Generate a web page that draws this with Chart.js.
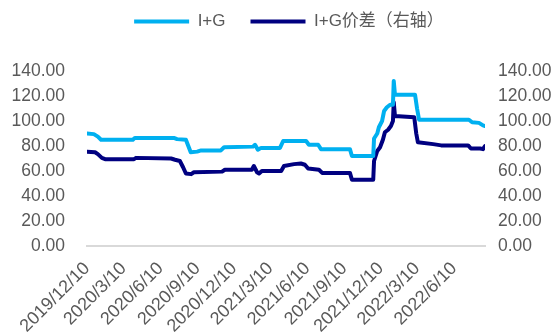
<!DOCTYPE html>
<html>
<head>
<meta charset="utf-8">
<script src="https://cdn.jsdelivr.net/npm/chart.js@4/dist/chart.umd.min.js"></script>
<style>
  html, body { margin: 0; padding: 0; background: #ffffff; }
  #wrap { width: 558px; height: 334px; }
</style>
</head>
<body>
<div id="wrap"><canvas id="chart" width="558" height="334"></canvas></div>
<script>
// I+G price (left axis) and I+G spread (right axis), dated change points
const igDates = ['2019/12/10','2019/12/27','2020/1/6','2020/1/14','2020/4/2','2020/4/7','2020/7/13','2020/7/21','2020/8/12','2020/8/18','2020/8/24','2020/9/9','2020/9/19','2020/11/7','2020/11/15','2021/1/26','2021/1/31','2021/2/7','2021/2/15','2021/4/3','2021/4/11','2021/6/7','2021/6/14','2021/7/7','2021/7/14','2021/9/24','2021/9/29','2021/11/21','2021/11/23','2021/12/1','2021/12/5','2021/12/13','2021/12/18','2021/12/25','2022/1/2','2022/1/9','2022/1/11','2022/1/14','2022/3/5','2022/3/10','2022/3/15','2022/7/17','2022/7/25','2022/8/11','2022/8/21','2022/8/26'];
const igValues = [90,89.5,87.5,85,85,86.5,86.5,85.5,85,80,75,75.5,76.5,76.5,79,79.5,81,77,78.5,78.5,84,84,81,81,77.5,77.5,72,72,86,90,95,100,108,111,113,113,132,121,121,110,101,101,99,98.5,96.5,96];

const spreadDates = ['2019/12/10','2019/12/30','2020/1/6','2020/1/16','2020/1/24','2020/4/5','2020/4/10','2020/7/6','2020/7/16','2020/7/28','2020/8/5','2020/8/12','2020/8/25','2020/9/1','2020/11/10','2020/11/17','2021/1/23','2021/1/28','2021/2/5','2021/2/10','2021/2/17','2021/4/6','2021/4/13','2021/5/8','2021/5/25','2021/6/4','2021/6/12','2021/7/9','2021/7/17','2021/9/24','2021/9/29','2021/11/21','2021/11/23','2021/12/1','2021/12/8','2021/12/15','2021/12/20','2021/12/28','2022/1/4','2022/1/9','2022/1/11','2022/1/14','2022/3/3','2022/3/8','2022/3/12','2022/4/19','2022/5/9','2022/7/15','2022/7/22','2022/8/14','2022/8/21','2022/8/26'];
const spreadValues = [75.5,75,73.5,70.5,69.5,69.5,70.5,70,69,68,63,58,57.5,59,59.5,61,61,64,59,58,60,60,64,65.5,66,65,62,61,58.5,58.5,53,53,68,76,79,85,91,93,96,100,115,104,103,90,83,81.5,80.5,80.5,78,78,77.5,80];

const xTickLabels = ['2019/12/10','2020/3/10','2020/6/10','2020/9/10','2020/12/10','2021/3/10','2021/6/10','2021/9/10','2021/12/10','2022/3/10','2022/6/10'];

const seriesNames = ['I+G', 'I+G价差（右轴）'];

// Dates become day counts from the first axis label
function dayOf(s) {
  const [y, m, d] = s.split('/').map(Number);
  const [y0, m0, d0] = xTickLabels[0].split('/').map(Number);
  return Math.round((Date.UTC(y, m - 1, d) - Date.UTC(y0, m0 - 1, d0)) / 864e5);
}
const toPoints = (dates, vals) => dates.map((d, i) => ({ x: dayOf(d), y: vals[i] }));

const lastDay = Math.max(dayOf(igDates[igDates.length - 1]), dayOf(spreadDates[spreadDates.length - 1]));

const textColor = '#595959';
const fontFamily = "'Liberation Sans', Arial, 'Noto Sans CJK SC', sans-serif";
Chart.defaults.font.family = fontFamily;
Chart.defaults.color = textColor;

// Leave extra room between the legend row and the plot, nudge the row right
const legendGap = {
  id: 'legendGap',
  beforeInit(chart) {
    const legend = chart.legend;
    if (!legend) return;
    const fit = legend.fit;
    legend.fit = function () {
      fit.call(this);
      this.height += 31;
    };
  },
  afterLayout(chart) {
    const legend = chart.legend;
    if (!legend) return;
    legend.left += 10;
    legend.right += 10;
  }
};

new Chart(document.getElementById('chart'), {
  type: 'line',
  data: {
    datasets: [
      {
        label: seriesNames[0],
        data: toPoints(igDates, igValues),
        yAxisID: 'y',
        borderColor: '#00b0f0',
        backgroundColor: '#00b0f0',
        borderWidth: 4,
        borderCapStyle: 'round',
        borderJoinStyle: 'round',
        pointRadius: 0,
        tension: 0
      },
      {
        label: seriesNames[1],
        data: toPoints(spreadDates, spreadValues),
        yAxisID: 'y1',
        borderColor: '#000080',
        backgroundColor: '#000080',
        borderWidth: 4,
        borderCapStyle: 'round',
        borderJoinStyle: 'round',
        pointRadius: 0,
        tension: 0
      }
    ]
  },
  plugins: [legendGap],
  options: {
    responsive: false,
    devicePixelRatio: 1,
    animation: false,
    layout: { padding: { top: -12, left: 0, right: 0, bottom: 0 } },
    plugins: {
      legend: {
        position: 'top',
        labels: {
          usePointStyle: true,
          pointStyle: 'line',
          pointStyleWidth: 55,
          boxHeight: 4,
          padding: 25,
          font: { size: 17 },
          color: textColor
        }
      },
      tooltip: { enabled: false }
    },
    scales: {
      x: {
        type: 'linear',
        min: 0,
        max: lastDay,
        grid: { display: false, drawTicks: false },
        border: { display: true, color: '#d9d9d9', width: 2 },
        afterBuildTicks: (scale) => {
          scale.ticks = xTickLabels.map(s => ({ value: dayOf(s) }));
        },
        afterFit: (scale) => { scale.height = 88; },
        ticks: {
          autoSkip: false,
          minRotation: 45,
          maxRotation: 45,
          padding: 12,
          font: { size: 18 },
          color: textColor,
          callback: (v, i) => xTickLabels[i]
        }
      },
      y: {
        position: 'left',
        min: 0,
        max: 140,
        grid: { display: false, drawTicks: false },
        border: { display: false },
        afterFit: (scale) => { scale.width = 87; },
        ticks: {
          stepSize: 20,
          padding: 22,
          font: { size: 17.5 },
          color: textColor,
          callback: (v) => Number(v).toFixed(2)
        }
      },
      y1: {
        position: 'right',
        min: 0,
        max: 140,
        grid: { display: false, drawTicks: false },
        border: { display: false },
        afterFit: (scale) => { scale.width = 73; },
        ticks: {
          stepSize: 20,
          padding: 13,
          font: { size: 17.5 },
          color: textColor,
          callback: (v) => Number(v).toFixed(2)
        }
      }
    }
  }
});
</script>
</body>
</html>
